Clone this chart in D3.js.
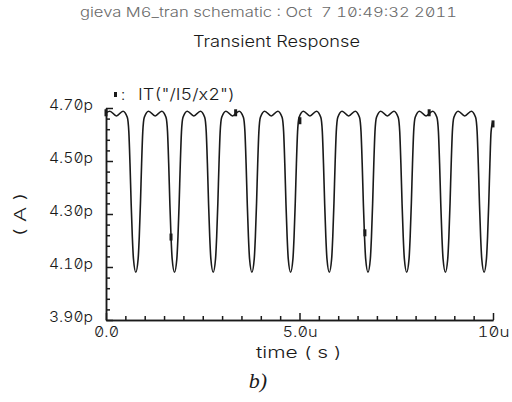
<!DOCTYPE html>
<html>
<head>
<meta charset="utf-8">
<script src="https://cdn.jsdelivr.net/npm/d3@7"></script>
<style>
  html, body { margin: 0; padding: 0; background: #fff; }
  svg { display: block; }
  .sz { font-family: Inter, 'DejaVu Sans', sans-serif; font-weight: 300; font-feature-settings: "zero" 1, "tnum" 1; white-space: pre; }
</style>
</head>
<body>
<svg id="chart" width="512" height="402"></svg>
<script>
// ---- data (time in µs, current in pA) ----
const timeUs = [
  0.00, 0.10, 0.27,
  0.44, 0.55, 0.59, 0.62, 0.65, 0.68, 0.71, 0.77, 0.83, 0.86, 0.89, 0.92, 0.95, 0.99, 1.10, 1.27,
  1.44, 1.55, 1.59, 1.62, 1.65, 1.68, 1.71, 1.77, 1.83, 1.86, 1.89, 1.92, 1.95, 1.99, 2.10, 2.27,
  2.44, 2.55, 2.59, 2.62, 2.65, 2.68, 2.71, 2.77, 2.83, 2.86, 2.89, 2.92, 2.95, 2.99, 3.10, 3.27,
  3.44, 3.55, 3.59, 3.62, 3.65, 3.68, 3.71, 3.77, 3.83, 3.86, 3.89, 3.92, 3.95, 3.99, 4.10, 4.27,
  4.44, 4.55, 4.59, 4.62, 4.65, 4.68, 4.71, 4.77, 4.83, 4.86, 4.89, 4.92, 4.95, 4.99, 5.10, 5.27,
  5.44, 5.55, 5.59, 5.62, 5.65, 5.68, 5.71, 5.77, 5.83, 5.86, 5.89, 5.92, 5.95, 5.99, 6.10, 6.27,
  6.44, 6.55, 6.59, 6.62, 6.65, 6.68, 6.71, 6.77, 6.83, 6.86, 6.89, 6.92, 6.95, 6.99, 7.10, 7.27,
  7.44, 7.55, 7.59, 7.62, 7.65, 7.68, 7.71, 7.77, 7.83, 7.86, 7.89, 7.92, 7.95, 7.99, 8.10, 8.27,
  8.44, 8.55, 8.59, 8.62, 8.65, 8.68, 8.71, 8.77, 8.83, 8.86, 8.89, 8.92, 8.95, 8.99, 9.10, 9.27,
  9.44, 9.55, 9.59, 9.62, 9.65, 9.68, 9.71, 9.77, 9.83, 9.86, 9.89, 9.92, 9.95, 10.00
];
const currentPA = [
  4.682, 4.688, 4.670,
  4.688, 4.665, 4.610, 4.490, 4.340, 4.215, 4.130, 4.080, 4.130, 4.215, 4.340, 4.490, 4.610, 4.665, 4.688, 4.670,
  4.688, 4.665, 4.610, 4.490, 4.340, 4.215, 4.130, 4.080, 4.130, 4.215, 4.340, 4.490, 4.610, 4.665, 4.688, 4.670,
  4.688, 4.665, 4.610, 4.490, 4.340, 4.215, 4.130, 4.080, 4.130, 4.215, 4.340, 4.490, 4.610, 4.665, 4.688, 4.670,
  4.688, 4.665, 4.610, 4.490, 4.340, 4.215, 4.130, 4.080, 4.130, 4.215, 4.340, 4.490, 4.610, 4.665, 4.688, 4.670,
  4.688, 4.665, 4.610, 4.490, 4.340, 4.215, 4.130, 4.080, 4.130, 4.215, 4.340, 4.490, 4.610, 4.665, 4.688, 4.670,
  4.688, 4.665, 4.610, 4.490, 4.340, 4.215, 4.130, 4.080, 4.130, 4.215, 4.340, 4.490, 4.610, 4.665, 4.688, 4.670,
  4.688, 4.665, 4.610, 4.490, 4.340, 4.215, 4.130, 4.080, 4.130, 4.215, 4.340, 4.490, 4.610, 4.665, 4.688, 4.670,
  4.688, 4.665, 4.610, 4.490, 4.340, 4.215, 4.130, 4.080, 4.130, 4.215, 4.340, 4.490, 4.610, 4.665, 4.688, 4.670,
  4.688, 4.665, 4.610, 4.490, 4.340, 4.215, 4.130, 4.080, 4.130, 4.215, 4.340, 4.490, 4.610, 4.665, 4.688, 4.670,
  4.688, 4.665, 4.610, 4.490, 4.340, 4.215, 4.130, 4.080, 4.130, 4.215, 4.340, 4.490, 4.610, 4.650
];
const markerTimeUs = [0.00, 1.68, 3.35, 5.01, 6.69, 8.35, 10.00];
const markerPA     = [4.682, 4.213, 4.682, 4.652, 4.229, 4.682, 4.640];

const xMajorTicks = [0, 5, 10];
const xTickLabels = ["0.0", "5.0u", "10u"];
const yMajorTicks = [3.9, 4.1, 4.3, 4.5, 4.7];
const yTickLabels = ["3.90p", "4.10p", "4.30p", "4.50p", "4.70p"];

const headerText = "gieva M6_tran schematic : Oct  7 10:49:32 2011";
const titleText = "Transient Response";
const legendText = "IT(\"/I5/x2\")";
const xTitle = "time ( s )";
const yTitle = "( A )";
const captionText = "b)";

// ---- drawing ----
const svg = d3.select("#chart");
const ink = "#1a1a1a";

const x = d3.scaleLinear().domain([0, 10]).range([106, 493]);
const y = d3.scaleLinear().domain([3.9, 4.7]).range([320, 108]);

// header texts
svg.append("text").attr("class", "sz").attr("x", 80).attr("y", 17)
  .attr("font-size", 13.5).attr("fill", "#6a6a6a")
  .attr("textLength", 377).attr("lengthAdjust", "spacingAndGlyphs")
  .text(headerText);
svg.append("text").attr("class", "sz").attr("x", 193).attr("y", 47)
  .attr("font-size", 15.5).attr("fill", ink)
  .attr("textLength", 167).attr("lengthAdjust", "spacingAndGlyphs")
  .text(titleText);

// minor ticks
const yMinor = d3.range(3.9, 4.7001, 0.04).filter(v => !yMajorTicks.some(m => Math.abs(m - v) < 1e-6));
const xMinor = d3.range(0, 10.001, 0.5).filter(v => !xMajorTicks.some(m => Math.abs(m - v) < 1e-6));

const yAxisMinor = d3.axisLeft(y).tickValues(yMinor).tickSize(-4).tickSizeOuter(0).tickFormat("");
const yAxisMajor = d3.axisLeft(y).tickValues(yMajorTicks).tickSize(-7).tickSizeOuter(0).tickPadding(13)
  .tickFormat((d, i) => yTickLabels[i]);
const xAxisMinor = d3.axisBottom(x).tickValues(xMinor).tickSize(-4).tickSizeOuter(0).tickFormat("");
const xAxisMajor = d3.axisBottom(x).tickValues(xMajorTicks).tickSize(-7).tickSizeOuter(0).tickPadding(7)
  .tickFormat((d, i) => xTickLabels[i]);

function styleAxis(g) {
  g.selectAll("path, line").attr("stroke", ink).attr("stroke-width", 1.5);
  g.selectAll("text").attr("class", "sz").attr("fill", ink).attr("font-size", 14.5)
    .attr("font-family", null);
}

svg.append("g").attr("transform", `translate(${x(0)},0)`).call(yAxisMinor).call(styleAxis);
const gy = svg.append("g").attr("transform", `translate(${x(0)},0)`).call(yAxisMajor).call(styleAxis);
gy.selectAll("text").attr("dy", "0.07em").attr("textLength", 44).attr("lengthAdjust", "spacingAndGlyphs");
svg.append("g").attr("transform", `translate(0,${y(3.9)})`).call(xAxisMinor).call(styleAxis);
const gx = svg.append("g").attr("transform", `translate(0,${y(3.9)})`).call(xAxisMajor).call(styleAxis);
gx.selectAll("text").attr("textLength", (d, i) => [25, 35, 32][i]).attr("lengthAdjust", "spacingAndGlyphs");

// axis titles
svg.append("text").attr("class", "sz").attr("x", 256).attr("y", 358)
  .attr("font-size", 15.5).attr("fill", ink)
  .attr("textLength", 86).attr("lengthAdjust", "spacingAndGlyphs").text(xTitle);
svg.append("text").attr("class", "sz").attr("transform", "translate(26,237) rotate(-90)")
  .attr("font-size", 15.5).attr("fill", ink)
  .attr("textLength", 45).attr("lengthAdjust", "spacingAndGlyphs").text(yTitle);

// waveform
const pts = timeUs.map((t, i) => [t, currentPA[i]]);
const line = d3.line().x(d => x(d[0])).y(d => y(d[1])).curve(d3.curveMonotoneX);
svg.append("path").datum(pts).attr("d", line).attr("fill", "none")
  .attr("stroke", ink).attr("stroke-width", 1.6).attr("stroke-linejoin", "round");

// markers
svg.selectAll("rect.mk").data(markerTimeUs.map((t, i) => [t, markerPA[i]])).join("rect")
  .attr("class", "mk").attr("x", d => x(d[0]) - 1.5).attr("y", d => y(d[1]) - 3.5)
  .attr("width", 3).attr("height", 7).attr("fill", ink);

// legend
svg.append("rect").attr("x", 114).attr("y", 92).attr("width", 3).attr("height", 5).attr("fill", ink);
svg.append("text").attr("class", "sz").attr("x", 121).attr("y", 100).attr("font-size", 15.5)
  .attr("fill", ink).text(":");
svg.append("text").attr("class", "sz").attr("x", 138).attr("y", 100).attr("font-size", 15.5)
  .attr("fill", ink).attr("textLength", 97).attr("lengthAdjust", "spacingAndGlyphs").text(legendText);

// caption
svg.append("text").attr("x", 258).attr("y", 388).attr("text-anchor", "middle")
  .attr("font-family", "'Liberation Serif', serif").attr("font-style", "italic")
  .attr("font-size", 22).attr("fill", ink).text(captionText);
</script>
</body>
</html>
